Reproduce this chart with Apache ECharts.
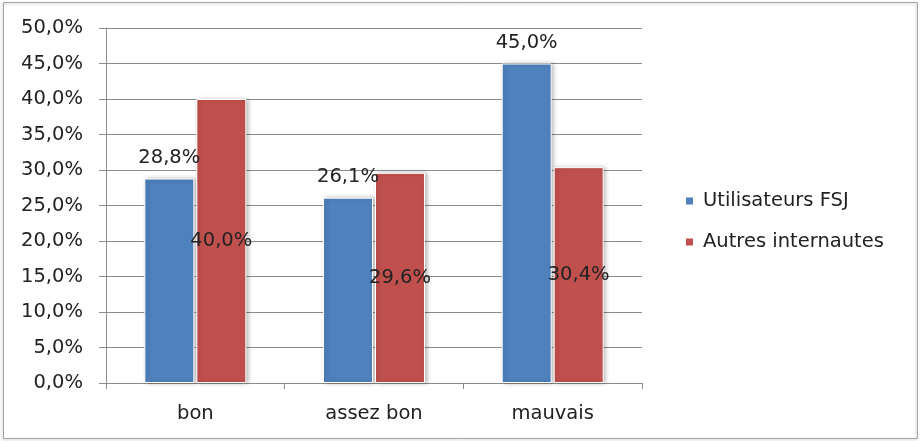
<!DOCTYPE html>
<html>
<head>
<meta charset="utf-8">
<script src="https://cdn.jsdelivr.net/npm/echarts@6/dist/echarts.min.js"></script>
<style>
  html, body { margin: 0; padding: 0; background: #fff; }
  #chart { width: 922px; height: 441px; }
</style>
</head>
<body>
<div id="chart"></div>
<script>
// Appreciation ratings, two groups of respondents
const categories = ['bon', 'assez bon', 'mauvais'];
const seriesNames = ['Utilisateurs FSJ', 'Autres internautes'];
const fsjValues = [28.8, 26.1, 45.0];
const autresValues = [40.0, 29.6, 30.4];
const yTicks = [0, 5, 10, 15, 20, 25, 30, 35, 40, 45, 50];

const FONT = '"DejaVu Sans", "Open Sans", sans-serif';
const FS = 19.5;
const TXT = '#222222';
const fmt = v => v.toFixed(1).replace('.', ',') + '%';

const chart = echarts.init(document.getElementById('chart'), null, { renderer: 'canvas' });

const barStyle = color => ({
  color: color,
  borderColor: '#ffffff',
  borderWidth: 1,
  shadowColor: 'rgba(0,0,0,0.25)',
  shadowBlur: 4,
  shadowOffsetX: 2,
  shadowOffsetY: 0
});

chart.setOption({
  animation: false,
  backgroundColor: '#ffffff',
  textStyle: { fontFamily: FONT },
  graphic: [{
    type: 'rect',
    shape: { x: 3.5, y: 2.5, width: 914, height: 436 },
    style: { fill: 'none', stroke: '#a6a6a6', lineWidth: 1,
             shadowColor: 'rgba(0,0,0,0.25)', shadowBlur: 3, shadowOffsetX: -1, shadowOffsetY: 1 },
    z: 0
  }],
  grid: { left: 106, right: 280, top: 28, bottom: 58 },
  legend: {
    orient: 'vertical',
    left: 684,
    top: 191,
    padding: 0,
    itemWidth: 9,
    itemHeight: 9,
    itemGap: 21,
    icon: 'rect',
    textStyle: { fontSize: FS, color: TXT, fontFamily: FONT, padding: [0, 0, 0, 4] },
    data: seriesNames
  },
  xAxis: {
    type: 'category',
    data: categories,
    axisLine: { lineStyle: { color: '#8c8c8c', width: 1 } },
    axisTick: { show: true, length: 6, alignWithLabel: false, lineStyle: { color: '#8c8c8c' } },
    axisLabel: { fontSize: FS, color: TXT, margin: 21, fontFamily: FONT }
  },
  yAxis: {
    type: 'value',
    min: yTicks[0],
    max: yTicks[yTicks.length - 1],
    interval: yTicks[1] - yTicks[0],
    axisLine: { show: true, lineStyle: { color: '#8c8c8c', width: 1 } },
    axisTick: { show: true, length: 7, lineStyle: { color: '#8c8c8c' } },
    splitLine: { lineStyle: { color: '#8c8c8c', width: 1 } },
    axisLabel: { fontSize: FS, color: TXT, margin: 23, fontFamily: FONT, formatter: v => fmt(v) }
  },
  series: [
    {
      name: seriesNames[0],
      type: 'bar',
      data: fsjValues,
      barWidth: 50,
      barGap: '4%',
      itemStyle: barStyle('#4f81bd'),
      label: {
        show: true, position: 'top', distance: 11,
        fontSize: FS, color: TXT, fontFamily: FONT,
        formatter: p => fmt(p.value)
      }
    },
    {
      name: seriesNames[1],
      type: 'bar',
      data: autresValues,
      barWidth: 50,
      itemStyle: barStyle('#c0504d'),
      label: {
        show: true, position: 'inside',
        fontSize: FS, color: TXT, fontFamily: FONT,
        formatter: p => fmt(p.value)
      }
    }
  ]
});
</script>
</body>
</html>
